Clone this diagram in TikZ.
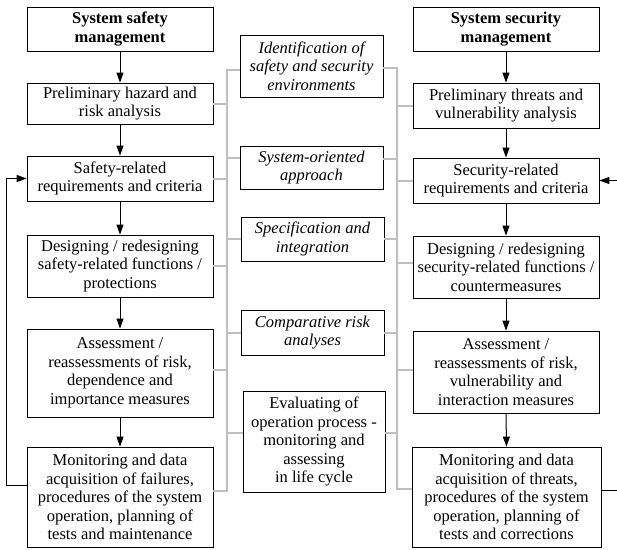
\documentclass[tikz,border=0pt]{standalone}
\usepackage{fontspec}
\setmainfont{Liberation Serif}
\usetikzlibrary{arrows.meta}
\tikzstyle{sbox}=[rectangle, draw=black, line width=0.8pt, inner sep=0pt, align=center, minimum width=186pt, font=\fontsize{16.5}{18.5}\selectfont]
\tikzstyle{cbox}=[sbox, minimum width=143pt, font=\fontsize{16.5}{18.5}\selectfont\itshape]
\tikzstyle{ebox}=[sbox, minimum width=142pt]
\tikzstyle{pline}=[-, line width=2pt, draw=black!25]
\tikzstyle{parrow}=[-{Triangle[length=10pt,width=7pt]}, line width=1pt]

\begin{document}
\begin{tikzpicture}[x=1pt,y=-1pt]
\useasboundingbox (0,0) rectangle (617,549);
% safety side
\node (L0) [sbox, minimum height=44pt] at (120,29) {\textbf{System safety}\\\textbf{management}};
\node (L1) [sbox, minimum height=41pt] at (120,103.5) {Preliminary hazard and\\risk analysis};
\node (L2) [sbox, minimum height=45pt] at (120,178.5) {Safety-related\\requirements and criteria};
\node (L3) [sbox, minimum height=62pt] at (120,266) {Designing / redesigning\\safety-related functions /\\protections};
\node (L4) [sbox, minimum height=88pt] at (120,373) {Assessment /\\reassessments of risk,\\dependence and\\importance measures};
\node (L5) [sbox, minimum height=100pt] at (120,497) {Monitoring and data\\acquisition of failures,\\procedures of the system\\operation, planning of\\tests and maintenance};
% security side
\node (R0) [sbox, minimum height=44pt] at (506,29) {\textbf{System security}\\\textbf{management}};
\node (R1) [sbox, minimum height=45pt] at (506,105.5) {Preliminary threats and\\vulnerability analysis};
\node (R2) [sbox, minimum height=45pt] at (506,180.5) {Security-related\\requirements and criteria};
\node (R3) [sbox, minimum height=62pt] at (506,267) {Designing / redesigning\\security-related functions /\\countermeasures};
\node (R4) [sbox, minimum height=82pt] at (506,372) {Assessment /\\reassessments of risk,\\vulnerability and\\interaction measures};
\node (R5) [sbox, minimum height=100pt, minimum width=189pt] at (506.5,497) {Monitoring and data\\acquisition of threats,\\procedures of the system\\operation, planning of\\tests and corrections};
% common part
\node (C1) [cbox, minimum height=62pt] at (311.5,66) {Identification of\\safety and security\\environments};
\node (C2) [cbox, minimum height=43pt] at (311.5,167.5) {System-oriented\\approach};
\node (C3) [cbox, minimum height=44pt] at (312.5,239) {Specification and\\integration};
\node (C4) [cbox, minimum height=45pt] at (312.5,332.5) {Comparative risk\\analyses};
\node (C5) [ebox, minimum height=101pt] at (314,441.5) {Evaluating of\\operation process -\\monitoring and\\assessing\\in life cycle};
% main flow
 \draw[parrow]   (L0.south) -- (L1.north) ; 
 \draw[parrow]   (L1.south) -- (L2.north) ; 
 \draw[parrow]   (L2.south) -- (L3.north) ; 
 \draw[parrow]   (L3.south) -- (L4.north) ; 
 \draw[parrow]   (L4.south) -- (L5.north) ; 
 \draw[parrow]   (R0.south) -- (R1.north) ; 
 \draw[parrow]   (R1.south) -- (R2.north) ; 
 \draw[parrow]   (R2.south) -- (R3.north) ; 
 \draw[parrow]   (R3.south) -- (R4.north) ; 
 \draw[parrow]   (R4.south) -- (R5.north) ; 
% feedback
 \draw[parrow]   ([yshift=12pt]L5.west) -- ++(-20,0) |- (L2.west) ; 
 \draw[parrow]   ([yshift=7pt]R5.east) -- ++(19,0) |- (R2.east) ; 
% gray buses
\coordinate (bl) at (227,0);
\coordinate (br) at (397,0);
\coordinate (c1l) at ([yshift=-4pt]C1.west);
\coordinate (c1r) at ([yshift=-2pt]C1.east);
\coordinate (c2l) at ([yshift=9.5pt]C2.west);
\coordinate (c2r) at ([yshift=8.5pt]C2.east);
\coordinate (c5l) at ([yshift=8.5pt]C5.west);
\coordinate (c5r) at ([yshift=8.5pt]C5.east);
\coordinate (l5e) at ([yshift=6pt]L5.east);
\coordinate (r5w) at ([yshift=8pt]R5.west);
\coordinate (r3w) at ([yshift=4pt]R3.west);
\coordinate (l4e) at ([yshift=3pt]L4.east);
\coordinate (r4w) at ([yshift=2pt]R4.west);
 \draw[pline]   (c1l) -- (c1l -| bl) -- (l5e -| bl) -- (l5e) ; 
 \draw[pline]   (c1r) -- (c1r -| br) -- (r5w -| br) -- (r5w) ; 
 \draw[pline]   (L1.east) -- (L1.east -| bl) ; 
 \draw[pline]   (L2.east) -- (L2.east -| bl) ; 
 \draw[pline]   (L3.east) -- (L3.east -| bl) ; 
 \draw[pline]   (l4e) -- (l4e -| bl) ; 
 \draw[pline]   (c2l) -- (c2l -| bl) ; 
 \draw[pline]   (C3.west) -- (C3.west -| bl) ; 
 \draw[pline]   (C4.west) -- (C4.west -| bl) ; 
 \draw[pline]   (c5l) -- (c5l -| bl) ; 
 \draw[pline]   (R1.west) -- (R1.west -| br) ; 
 \draw[pline]   (R2.west) -- (R2.west -| br) ; 
 \draw[pline]   (r3w) -- (r3w -| br) ; 
 \draw[pline]   (r4w) -- (r4w -| br) ; 
 \draw[pline]   (c2r) -- (c2r -| br) ; 
 \draw[pline]   (C3.east) -- (C3.east -| br) ; 
 \draw[pline]   (C4.east) -- (C4.east -| br) ; 
 \draw[pline]   (c5r) -- (c5r -| br) ; 
\end{tikzpicture}
\end{document}
